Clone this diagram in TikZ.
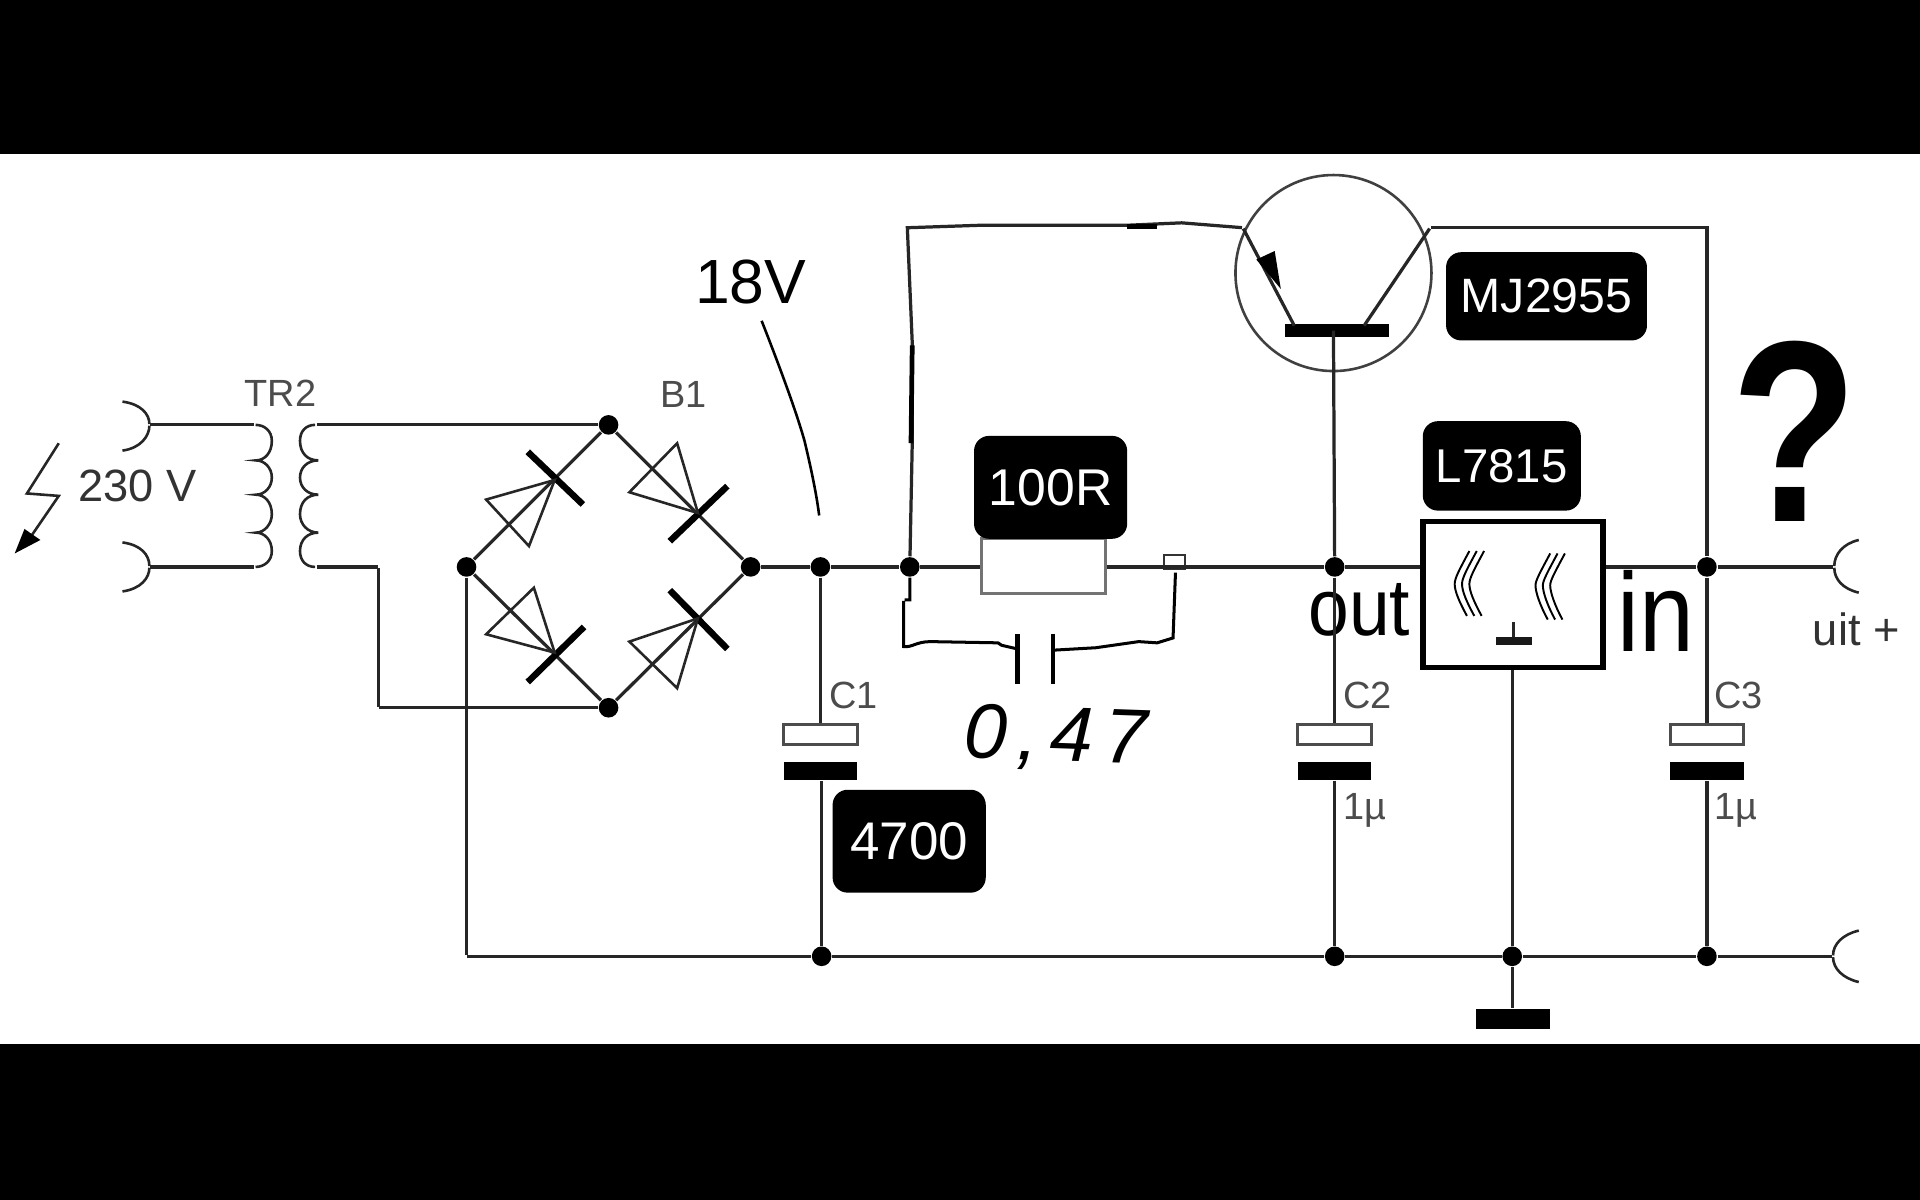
\documentclass[tikz,border=0pt]{standalone}
\usepackage{fontspec}
\setmainfont{Liberation Sans}
\newfontfamily\handfont[LetterSpace=14]{Liberation Sans}
\begin{document}
\begin{tikzpicture}[x=0.01cm,y=-0.01cm,
  wire/.style={draw=black!85,line width=0.75pt},
  thinline/.style={draw=black!85,line width=0.6pt},
  bar/.style={draw=black,line width=1.5pt},
  dot/.style={circle,fill=black,inner sep=0pt,minimum size=0.16cm},
  pt/.style={inner sep=0pt,minimum size=0pt},
  small/.style={text=black!70,font=\fontsize{8.8}{11}\selectfont,inner sep=0pt},
  lab/.style={fill=black,text=white,rounded corners=3.5pt,inner sep=0pt},
  capw/.style={draw=black!70,fill=white,line width=0.7pt,minimum width=0.6cm,minimum height=0.16cm,inner sep=0pt},
  capb/.style={fill=black,minimum width=0.6cm,minimum height=0.15cm,inner sep=0pt}]
\useasboundingbox (0,0) rectangle (1568,980);
\fill[white] (0,0) rectangle (1568,980);
\fill[black] (0,0) rectangle (1568,126);
\fill[black] (0,853) rectangle (1568,980);

% junctions and terminals
\node[dot] (T) at (497,347) {};
\node[dot] (L) at (381,463) {};
\node[dot] (R) at (613,463) {};
\node[dot] (B) at (497,578) {};
\node[dot] (J1) at (670,463) {};
\node[dot] (J2) at (743,463) {};
\node[dot] (J3) at (1090,463) {};
\node[dot] (J4) at (1394,463) {};
\node[dot] (G1) at (671,781) {};
\node[dot] (G2) at (1090,781) {};
\node[dot] (G3) at (1235,781) {};
\node[dot] (G4) at (1394,781) {};
\node[pt] (I1) at (122,347) {};
\node[pt] (I2) at (122,463) {};
\node[pt] (O1) at (1498,463) {};
\node[pt] (O2) at (1497,781) {};
\node[pt] (P1) at (208,347) {};
\node[pt] (P2) at (208,463) {};
\node[pt] (S1) at (258,347) {};
\node[pt] (S2) at (258,463) {};
\node[pt] (LL) at (381,781) {};
\node[pt] (Ck) at (309,463) {};
\node[pt] (Cm) at (309,578) {};

% sockets
\draw[thinline] (100,328) .. controls (115,330) and (122,338) .. (I1) .. controls (122,356) and (115,366) .. (100,368);
\draw[thinline] (100,443) .. controls (115,445) and (122,453) .. (I2) .. controls (122,472) and (115,481) .. (100,483);
\draw[thinline] (1518,441) .. controls (1505,444) and (1498,453) .. (O1) .. controls (1498,473) and (1505,481) .. (1518,484);
\draw[thinline] (1518,760) .. controls (1505,763) and (1497,771) .. (O2) .. controls (1497,791) and (1505,799) .. (1518,802);

% transformer
\draw[wire] (I1) -- (P1);
\draw[wire] (I2) -- (P2);
\draw[thinline] (P1) .. controls (216,347) and (222,352) .. (222,360) .. controls (222,370) and (216,376) .. (209,376)
  .. controls (216,376) and (222,382) .. (222,390) .. controls (222,398) and (216,404) .. (209,404)
  .. controls (216,404) and (222,410) .. (222,420) .. controls (222,428) and (216,435) .. (209,435)
  .. controls (216,435) and (222,441) .. (222,450) .. controls (222,458) and (216,463) .. (P2);
\draw[thinline] (S1) .. controls (250,347) and (245,352) .. (245,360) .. controls (245,370) and (251,376) .. (260,376)
  .. controls (251,376) and (245,382) .. (245,390) .. controls (245,398) and (251,404) .. (260,404)
  .. controls (251,404) and (245,410) .. (245,420) .. controls (245,428) and (251,435) .. (260,435)
  .. controls (251,435) and (245,441) .. (245,450) .. controls (245,458) and (250,463) .. (S2);
\draw[wire] (S2) -- (Ck) -- (Cm) -- (B);
\draw[wire] (S1) -- (T);
\node[small] (tr) at (229,321) {TR2};
\node[small] (b1) at (558,322) {B1};
\node[pt,text=black!80,font=\fontsize{10.5}{13}\selectfont] (v) at (112,397) {230 V};
\draw[thinline] (48,362) -- (22,403) -- (48,405) -- (24,440);
\fill[black] (12,452) -- (20,432) -- (33,441) -- cycle;

% bridge
\draw[wire] (L) -- (T) -- (R) -- (B) -- (L);
\draw[bar] (431,369) -- (476,412);
\draw[thinline] (453,392) -- (397,408) -- (432,446) -- cycle;
\draw[bar] (547,442) -- (594,397);
\draw[thinline] (570,419) -- (514,402) -- (553,362) -- cycle;
\draw[bar] (431,557) -- (477,512);
\draw[thinline] (453,533) -- (397,518) -- (436,480) -- cycle;
\draw[bar] (547,482) -- (594,530);
\draw[thinline] (570,505) -- (514,524) -- (553,562) -- cycle;

% main line
\draw[wire] (R) -- (J1) -- (J2);
\node[draw=black!55,fill=white,line width=0.7pt,minimum width=1.01cm,minimum height=0.45cm,inner sep=0pt] (res) at (852,462) {};
\node[lab,minimum width=1.25cm,minimum height=0.84cm,font=\fontsize{12}{14}\selectfont] (lr) at (858,398) {100R};
\node[draw=black!80,line width=0.5pt,minimum width=0.17cm,minimum height=0.12cm,inner sep=0pt] (sq) at (959,459) {};
\draw[wire] (J2) -- (res.west |- J2);
\draw[wire] (res.east |- J3) -- (J3);
\node[draw=black,line width=1.3pt,fill=white,minimum width=1.47cm,minimum height=1.19cm,inner sep=0pt] (reg) at (1235.5,485.5) {};
\draw[wire] (J3) -- (reg.west |- J3);
\draw[wire] (reg.east |- J4) -- (J4) -- (O1);

% hand drawn capacitor
\node[pt] (HL) at (738,490) {};
\node[pt] (HR) at (960,467) {};
\node[pt] (Pa) at (831,530) {};
\node[pt] (Pb) at (860,531) {};
\draw[draw=black,line width=0.7pt] (J2) -- (743,490) -- (HL) -- (738,528) .. controls (745,529) and (748,524) .. (760,524) -- (815,525) -- (818,527) -- (Pa);
\draw[draw=black,line width=0.7pt] (Pb) -- (895,529) -- (930,524) -- (945,525) -- (958,521) -- (HR);
\draw[draw=black,line width=1.2pt] (831,518) -- (831,559);
\draw[draw=black,line width=0.8pt] (860,518) -- (860,559);
\node[pt,font=\handfont\fontsize{18}{20}\selectfont\itshape,rotate=-2] (h047) at (862,603) {0,47};

% transistor
\node[circle,draw=black!75,line width=0.6pt,minimum size=1.6cm,inner sep=0pt] (Q) at (1089,223) {};
\node[fill=black,minimum width=0.85cm,minimum height=0.1cm,inner sep=0pt] (base) at (1092,270) {};
\node[pt] (E) at (1015,186) {};
\node[pt] (Cc) at (1168,186) {};
\draw[wire] (E) -- (1057,266);
\fill[black] (1046,236) -- (1026,212) -- (1041,205) -- cycle;
\draw[wire] (1114,266) -- (Cc);
\draw[wire] (Cc) -- (1394,186) -- (J4);
\draw[wire] (J3) -- (1089,270);
\draw[wire] (J2) -- (745,362) -- (745,280) -- (741,186) -- (800,184) -- (920,184) -- (965,182) -- (E);
\draw[draw=black,line width=1.1pt] (745,282) -- (744,362);
\draw[draw=black,line width=1.1pt] (920,185) -- (945,185);

% labels
\node[lab,minimum width=1.64cm,minimum height=0.72cm,font=\fontsize{11.2}{14}\selectfont] (lq) at (1263,242) {MJ2955};
\node[lab,minimum width=1.29cm,minimum height=0.73cm,font=\fontsize{11}{14}\selectfont] (lu) at (1226.5,380.5) {L7815};
\node[lab,minimum width=1.25cm,minimum height=0.84cm,font=\fontsize{12.3}{14}\selectfont] (lc) at (742.5,687) {4700};
\node[pt,font=\fontsize{14.5}{18}\selectfont] (t18) at (613,230) {18V};
\draw[draw=black,line width=0.6pt] (622,262) .. controls (635,295) and (650,335) .. (657,360) .. controls (663,385) and (667,405) .. (669,421);
\node[pt,font=\fontsize{17}{22}\selectfont,yscale=1.1] (tout) at (1110,498) {out};
\node[pt,font=\fontsize{26}{30}\selectfont,xscale=0.88] (tin) at (1352,499) {in};
\node[pt,font=\fontsize{10.5}{12}\selectfont,text=black!80] (tuit) at (1516,514) {uit +};
\node[pt,font=\fontsize{60}{64}\selectfont\bfseries,xscale=0.8] (tq) at (1466,352) {?};

% regulator symbol
\foreach \a in {0,6,12}{
 \draw[draw=black,line width=0.45pt] (1200+\a,450) .. controls (1192+\a,465) and (1188+\a,472) .. (1188+\a,477) .. controls (1188+\a,483) and (1192+\a,492) .. (1198+\a,503);
 \draw[draw=black,line width=0.45pt] (1266+\a,452) .. controls (1258+\a,467) and (1254+\a,474) .. (1254+\a,478) .. controls (1254+\a,484) and (1258+\a,495) .. (1264+\a,506);
}
\draw[thinline] (1236,508) -- (1236,522);
\fill[black!90] (1222,520) rectangle (1251,527);
\draw[wire] (reg.south -| G3) -- (G3);

% capacitors
\node[capw] (c1a) at (670,600) {};
\node[capb] (c1b) at (670,629.5) {};
\node[capw] (c2a) at (1090,600) {};
\node[capb] (c2b) at (1090,629.5) {};
\node[capw] (c3a) at (1394,600) {};
\node[capb] (c3b) at (1394,629.5) {};
\draw[wire] (J1) -- (c1a.north);
\draw[wire] (c1b.south -| G1) -- (G1);
\draw[wire] (J3) -- (c2a.north);
\draw[wire] (c2b.south) -- (G2);
\draw[wire] (J4) -- (c3a.north);
\draw[wire] (c3b.south) -- (G4);
\node[small] (nc1) at (697,568) {C1};
\node[small] (nc2) at (1117,568) {C2};
\node[small] (nc3) at (1420,568) {C3};
\node[small] (v2) at (1115,662) {1µ};
\node[small] (v3) at (1418,662) {1µ};

% ground rail
\draw[wire] (L) -- (LL) -- (G1) -- (G2) -- (G3) -- (G4) -- (O2);
\node[fill=black,minimum width=0.6cm,minimum height=0.16cm,inner sep=0pt] (gnd) at (1235.5,832) {};
\draw[wire] (G3) -- (gnd.north -| G3);
\end{tikzpicture}
\end{document}
